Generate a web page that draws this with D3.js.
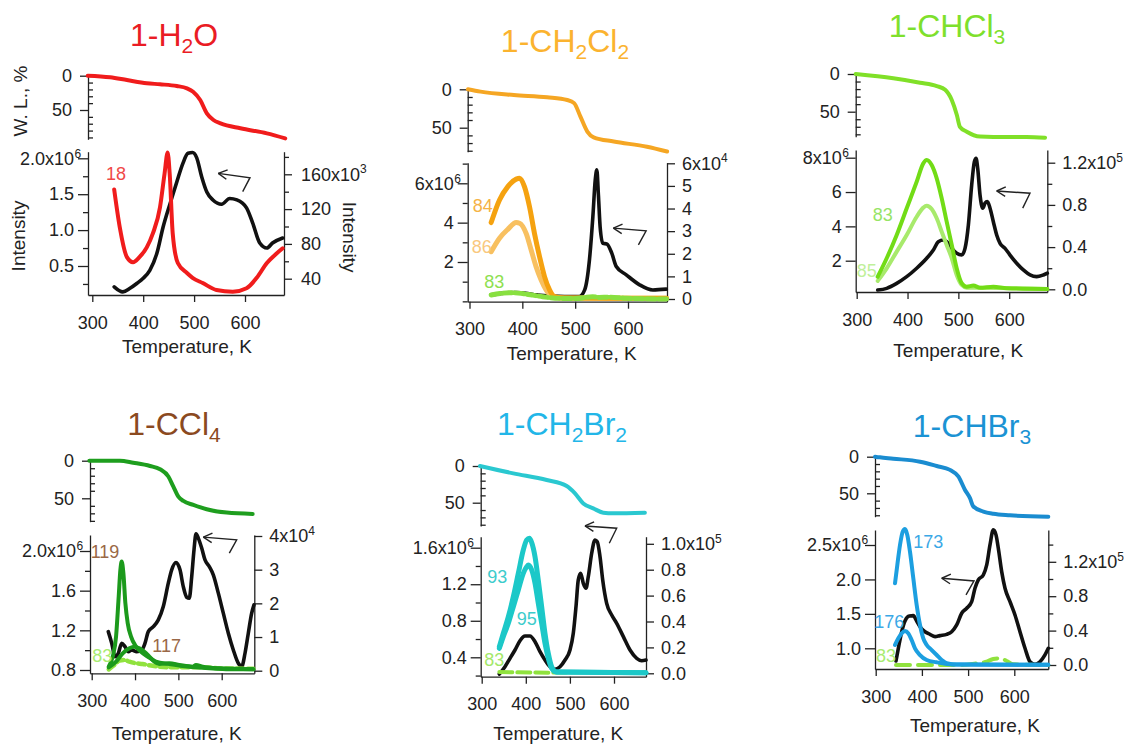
<!DOCTYPE html>
<html>
<head>
<meta charset="utf-8">
<script src="https://cdn.jsdelivr.net/npm/d3@7"></script>
<style>
  body { margin: 0; background: #fff; }
  svg text { font-family: "Liberation Sans", Arial, Helvetica, sans-serif; }
  .axis path, .axis line { stroke: #222; stroke-width: 1.3; }
  .axis text { font-size: 18px; fill: #222; font-family: "Liberation Sans", Arial, sans-serif; }
  .curve { fill: none; stroke-linejoin: round; stroke-linecap: round; }
</style>
</head>
<body>
<svg id="chart" width="1130" height="744"></svg>
<script>
// ---- shared ticks ----
const tempTicks = [300, 400, 500, 600];
const wlTicks = [0, 50];

// ---- 1-H2O ----  [T (K), value]
const h2oWL = [[291,0],[335,2.3],[368,6.3],[407,11],[433,12.5],[466,15],[486,18.4],[498,23.3],[512,35.4],[525,54.8],[538,64.6],[552,69.4],[591,76.7],[643,84],[679,91.3]];
const h2oTotal = [[343,0.21],[360,0.14],[374,0.19],[388,0.26],[400,0.33],[413,0.44],[427,0.68],[439,1.04],[453,1.375],[466,1.67],[478,1.93],[488,2.07],[497,2.08],[505,2.01],[515,1.74],[525,1.53],[537,1.42],[554,1.36],[570,1.44],[584,1.42],[603,1.31],[615,1.1],[629,0.82],[643,0.75],[654,0.82],[674,0.89]];
const h2oM18 = [[343,142.5],[354,99],[368,64.8],[380,59],[393,65],[407,76],[419,92],[433,122],[442,161],[448,185],[452,161],[458,92],[468,58],[486,46.5],[497,41],[517,35],[544,27],[576,25],[603,29],[623,41],[643,58],[662,69],[674,75]];
const h2oLeftTicks = [0.5, 1.0, 1.5, 2.0];
const h2oRightTicks = [40, 80, 120, 160];

// ---- 1-CH2Cl2 ----
const ch2cl2WL = [[297,0],[321,3],[384,7.4],[447,10.4],[485,14],[498,18],[510,35.6],[523,55],[535,62.6],[573,68],[636,74.8],[674,81]];
const ch2cl2Total = [[341,0.33],[365,0.42],[388,0.45],[410,0.4],[426,0.33],[451,0.28],[480,0.25],[508,0.25],[518,0.58],[527,2.1],[533.5,4.3],[538,6.17],[541,6.68],[544,5.4],[547.2,3.8],[552.3,2.95],[559.9,2.92],[569.3,2.45],[577.8,1.77],[596.7,1.35],[622,0.84],[647,0.58],[672.5,0.62]];
const ch2cl2M84 = [[341,3.38],[356.8,4.38],[372.5,4.97],[388.4,5.3],[394.7,5.34],[404,4.97],[413.6,4.08],[423,2.9],[432.6,1.87],[442,0.99],[451.5,0.4],[461,0.1],[480,0.04],[673,0.03]];
const ch2cl2M86 = [[341,2.09],[356.8,2.69],[372.5,3.08],[388.4,3.38],[394.7,3.35],[407.2,2.9],[416.7,2.17],[426,1.43],[435.6,0.84],[445,0.4],[457.6,0.1],[480,0.04],[673,0.03]];
const ch2cl2M83 = [[341,0.18],[360,0.25],[375.6,0.28],[392,0.26],[407,0.22],[420,0.17],[438.6,0.1],[470,0.03],[500,0.02],[533,0.1],[545,0.07],[565,0.08],[596.7,0.03],[673,0.0]];
const ch2cl2LeftTicks = [2, 4, 6];
const ch2cl2RightTicks = [0, 1, 2, 3, 4, 5, 6];

// ---- 1-CHCl3 ----
const chcl3WL = [[298,0],[372,5.7],[424.6,11.5],[457.5,16],[474,21],[487,34.5],[497,54.4],[503,70],[516.5,76.6],[542.7,83],[569,83.5],[634,83.5],[670.5,84.5]];
const chcl3Total = [[341.3,0.29],[359,0.39],[378.7,0.68],[398.4,1.07],[418,1.56],[437.7,2.14],[450.8,2.62],[460.6,3.11],[470.5,3.21],[477,3.11],[487,2.72],[496.7,2.43],[506.6,2.33],[513.1,2.72],[519.7,4.08],[526.2,6.41],[531.5,7.77],[534.8,7.97],[538,7.39],[542.6,5.83],[547.9,5.06],[552.5,5.35],[557,5.44],[562.3,5.06],[568.8,4.27],[575.4,3.5],[582,3.01],[591.8,2.72],[601.6,2.33],[614.7,1.85],[627.8,1.46],[641,1.17],[654,1.07],[667.2,1.17],[675,1.27]];
const chcl3M83 = [[341.3,0.119],[359,0.294],[378.7,0.515],[398.4,0.768],[418,1.02],[431,1.194],[437.7,1.226],[447.5,1.178],[457.4,1.052],[467.2,0.863],[477,0.641],[487,0.42],[496.7,0.199],[506.6,0.057],[516.4,0.025],[529.5,0.035],[542.6,0.015],[568.8,0.025],[595,0.01],[675,0.003]];
const chcl3M85 = [[341.3,0.079],[359,0.199],[378.7,0.357],[398.4,0.515],[418,0.688],[431,0.774],[437.7,0.793],[447.5,0.761],[457.4,0.673],[467.2,0.546],[477,0.42],[487,0.294],[496.7,0.136],[506.6,0.041],[516.4,0.015],[542.6,0.015],[675,0.003]];
const chcl3LeftTicks = [2, 4, 6, 8];
const chcl3RightTicks = [0, 0.4, 0.8, 1.2];

// ---- 1-CCl4 ----
const ccl4WL = [[294.5,0],[365,0],[396,2.7],[434.6,7],[457.7,11.4],[476.9,21],[488.5,34.5],[500,47.8],[511.5,53.5],[534.6,58.8],[565.4,64.6],[611.5,69],[671.5,70.8]];
const ccl4Total = [[338.3,1.187],[346.2,1.07],[353.8,0.934],[361.5,0.969],[369.2,1.07],[376.9,1.035],[384.5,0.985],[392.3,1.002],[403.8,0.985],[415.4,1.0],[423,1.07],[430.6,1.187],[442.2,1.237],[453.7,1.305],[465.2,1.44],[476.8,1.676],[484.6,1.81],[494.5,1.884],[503.8,1.81],[511.4,1.64],[519.2,1.534],[525.2,1.524],[530.8,1.742],[536.1,2.012],[540.7,2.174],[546,2.13],[553.8,2.03],[561.5,1.91],[571.4,1.843],[580.6,1.76],[592.2,1.575],[603.7,1.373],[615.3,1.171],[626.8,1.002],[638.3,0.868],[646.1,0.834],[653.8,0.969],[661.4,1.171],[669.2,1.373],[674.5,1.457]];
const ccl4M119 = [[339.3,0.119],[348.5,0.417],[356.2,1.012],[362.3,2.202],[366.2,2.997],[369.2,3.244],[373.1,2.9],[377.7,2.006],[383.1,1.411],[390.8,1.012],[402.3,0.714],[413.8,0.565],[429.2,0.417],[448.4,0.268],[479.2,0.2],[510,0.14],[540.7,0.1],[571.4,0.07],[617.6,0.04],[673,0.04]];
const ccl4M117 = [[339.3,0.1],[356.2,0.268],[371.6,0.516],[387,0.665],[398.5,0.714],[410,0.665],[421.6,0.565],[433.1,0.417],[444.6,0.268],[456.1,0.2],[479.2,0.22],[502.3,0.17],[533,0.119],[540.7,0.17],[556.1,0.119],[594.6,0.07],[673,0.04]];
const ccl4M83 = [[339.3,0.04],[352.3,0.17],[363.8,0.298],[375.4,0.318],[387,0.268],[402.3,0.22],[417.7,0.2],[433.1,0.16],[456.1,0.119],[479.2,0.1],[517.7,0.1],[556.1,0.1],[594.6,0.07],[673,0.06]];
const ccl4LeftTicks = [0.8, 1.2, 1.6, 2.0];
const ccl4RightTicks = [0, 1, 2, 3, 4];

// ---- 1-CH2Br2 ----
const ch2br2WL = [[296,0],[371.7,10],[447.4,19],[492.7,27.3],[511.6,37.3],[530.4,51],[553,57.7],[575.7,63.6],[598.4,64.5],[670,63.6]];
const ch2br2Total = [[340,0.217],[352.8,0.297],[364.2,0.389],[375.5,0.48],[386.8,0.582],[398.2,0.633],[409.5,0.633],[420.9,0.571],[432.2,0.461],[443.5,0.37],[454.9,0.297],[466.2,0.269],[477.6,0.297],[488.9,0.37],[500.2,0.48],[507.7,0.663],[513.8,0.954],[519,1.247],[524.4,1.32],[530.4,1.21],[536.5,1.156],[541.7,1.283],[549.4,1.539],[556.9,1.685],[562.1,1.666],[568.3,1.502],[574.4,1.247],[583.4,0.991],[594.8,0.863],[606.1,0.772],[621.2,0.626],[636.3,0.48],[651.5,0.389],[662.8,0.363],[672.6,0.37]];
const ch2br2M93 = [[340,0.205],[349,0.309],[360.4,0.437],[371.7,0.592],[383,0.772],[394.3,0.952],[402,1.029],[408,1.042],[413.4,1.009],[420.9,0.9],[428.3,0.72],[436,0.514],[443.5,0.309],[451,0.154],[458.7,0.051],[470,0.01],[672.6,0.005]];
const ch2br2M95 = [[340,0.193],[349,0.283],[360.4,0.386],[371.7,0.514],[383,0.643],[394.3,0.772],[402,0.823],[406,0.836],[413.4,0.798],[420.9,0.695],[428.3,0.54],[436,0.386],[443.5,0.232],[451,0.116],[458.7,0.039],[470,0.01],[672.6,0.005]];
const ch2br2M83 = [[340,0.01],[450,0.005],[550,0.01],[672.6,0.005]];
const ch2br2LeftTicks = [0.4, 0.8, 1.2, 1.6];
const ch2br2RightTicks = [0, 0.2, 0.4, 0.6, 0.8, 1.0];

// ---- 1-CHBr3 ----
const chbr3WL = [[298.5,0],[309,0.9],[338,2.7],[396,6.8],[432,12.7],[460.8,18],[478.8,27],[493.3,45.4],[504.1,56.7],[511.3,68],[533,75],[554.5,78],[590.7,80],[673.6,82]];
const chbr3Total = [[343.9,0.815],[349,1.0],[356.3,1.241],[363.4,1.397],[372.8,1.469],[381.4,1.474],[388.7,1.397],[395.9,1.314],[406.7,1.241],[417.5,1.203],[428.4,1.169],[439.2,1.184],[453.7,1.203],[464.5,1.241],[475.3,1.339],[486.1,1.509],[496.9,1.581],[507.8,1.677],[514.9,1.872],[522.1,1.993],[532.9,2.065],[540.3,2.211],[547.4,2.501],[554.5,2.72],[560.4,2.647],[565.4,2.453],[572.7,2.113],[579.9,1.872],[590.7,1.677],[601.5,1.484],[612.3,1.241],[623.2,1.0],[634,0.805],[644.8,0.767],[655.6,0.805],[666.4,0.903],[673.6,1.0]];
const chbr3M173 = [[341.8,0.95],[346.8,1.163],[352.6,1.395],[358.4,1.55],[363.4,1.581],[368.4,1.512],[374.2,1.318],[381.4,1.008],[388.7,0.698],[395.9,0.465],[403,0.31],[410.4,0.233],[421.2,0.174],[432,0.116],[442.9,0.058],[453.7,0.02],[475.3,0.005],[673.6,0.003]];
const chbr3M176 = [[341.8,0.233],[349,0.31],[356.2,0.368],[363.4,0.395],[370.6,0.368],[377.8,0.29],[385,0.194],[395.9,0.116],[410.4,0.058],[432,0.031],[453.7,0.012],[482.6,0.005],[673.6,0.003]];
const chbr3M83 = [[343.9,0],[410.4,0],[482.6,0],[518.7,0.02],[540.3,0.039],[554.5,0.07],[569,0.078],[583.4,0.047],[597.9,0.008],[673.6,0]];
const chbr3LeftTicks = [1.0, 1.5, 2.0, 2.5];
const chbr3RightTicks = [0, 0.4, 0.8, 1.2];

// ---- panel layout (positions in px, calibrations of axes) ----
const panels = [
  {
    title: [["1-H"], ["2", 1], ["O"]], titleColor: "#ea1c24", titleX: 174, titleY: 46,
    left: 88, right: 284, x300: 92.3, x600: 245, top: 151.7, bottom: 295,
    wl: { y0: 75.7, y50: 110, bottom: 139.3, data: h2oWL, color: "#f01c1c" },
    yl: { cal: [[0.5, 2.0], [266, 158.3]], major: h2oLeftTicks, minorStep: 0.25, dec: 1, exp: "6" },
    yr: { cal: [[40, 160], [278.7, 174.3]], major: h2oRightTicks, minorStep: 20, dec: 0, exp: "3", pad: 9 },
    series: [
      { data: h2oTotal, axis: "l", color: "#111", w: 3.6 },
      { data: h2oM18, axis: "r", color: "#f01c1c", w: 4 }
    ],
    labels: [{ text: "18", T: 346.8, v: 1.79, color: "#f04848" }],
    arrow: [[595.5, 1.535], [609.8, 1.73], [547.5, 1.79]],
    tempLabel: [187, 346]
  },
  {
    title: [["1-CH"], ["2", 1], ["Cl"], ["2", 1]], titleColor: "#fbb32f", titleX: 565, titleY: 52,
    left: 467.7, right: 667, x300: 469.5, x600: 628, top: 162.7, bottom: 301.7,
    wl: { y0: 89.3, y50: 127.7, bottom: 151.7, data: ch2cl2WL, color: "#f5a623" },
    yl: { cal: [[2, 6], [262, 183.3]], major: ch2cl2LeftTicks, minorStep: 1, dec: 0, exp: "6" },
    yr: { cal: [[0, 6], [299, 163.3]], major: ch2cl2RightTicks, minorStep: null, dec: 0, exp: "4", pad: 7 },
    series: [
      { data: ch2cl2Total, axis: "l", color: "#111", w: 3.6 },
      { data: ch2cl2M86, axis: "r", color: "#f8c060", w: 5 },
      { data: ch2cl2M84, axis: "r", color: "#f5a210", w: 5 },
      { data: ch2cl2M83, axis: "r", color: "#88e040", w: 5, dash: "9,3" }
    ],
    labels: [
      { text: "84", T: 325, v: 4.85, color: "#f5b346" },
      { text: "86", T: 323.1, v: 2.78, color: "#f9c87e" },
      { text: "83", T: 347, v: 1.0, color: "#8ee050" }
    ],
    arrow: [[619.7, 2.87], [634.3, 3.58], [572.3, 3.72]],
    tempLabel: [571.7, 353]
  },
  {
    title: [["1-CHCl"], ["3", 1]], titleColor: "#7ee02c", titleX: 947, titleY: 37,
    left: 855.7, right: 1047.3, x300: 856.7, x600: 1009.2, top: 150, bottom: 292,
    wl: { y0: 74, y50: 111.7, bottom: 136.7, data: chcl3WL, color: "#80e028" },
    yl: { cal: [[2, 8], [260.7, 157.7]], major: chcl3LeftTicks, minorStep: null, dec: 0, exp: "6" },
    yr: { cal: [[0, 1.2], [289.3, 162.7]], major: chcl3RightTicks, minorStep: 0.2, dec: 1, exp: "5", pad: 7 },
    series: [
      { data: chcl3Total, axis: "l", color: "#111", w: 3.6 },
      { data: chcl3M85, axis: "r", color: "#a8ea6c", w: 4 },
      { data: chcl3M83, axis: "r", color: "#72dc16", w: 4 }
    ],
    labels: [
      { text: "83", T: 351.2, v: 4.66, color: "#96e466" },
      { text: "85", T: 319.7, v: 1.4, color: "#c0f09a" }
    ],
    arrow: [[626.6, 5.06], [640.9, 5.93], [575.4, 6.06]],
    tempLabel: [958.3, 350]
  },
  {
    title: [["1-CCl"], ["4", 1]], titleColor: "#8b4a1f", titleX: 174, titleY: 435,
    left: 90, right: 254.3, x300: 91.7, x600: 221.7, top: 535, bottom: 673.3,
    wl: { y0: 460.7, y50: 498.3, bottom: 521.7, data: ccl4WL, color: "#1e9e1e" },
    yl: { cal: [[0.8, 2.0], [670, 551]], major: ccl4LeftTicks, minorStep: 0.2, dec: 1, exp: "6" },
    yr: { cal: [[0, 4], [670.7, 536]], major: ccl4RightTicks, minorStep: null, dec: 0, exp: "4", pad: 7 },
    series: [
      { data: ccl4Total, axis: "l", color: "#111", w: 3.6 },
      { data: ccl4M83, axis: "r", color: "#90e23e", w: 4.5, dash: "7,4" },
      { data: ccl4M117, axis: "r", color: "#1c9a1c", w: 4 },
      { data: ccl4M119, axis: "r", color: "#1c9a1c", w: 4 }
    ],
    labels: [
      { text: "119", T: 330.7, v: 1.995, color: "#9a6846" },
      { text: "117", T: 473.1, v: 1.05, color: "#9a6846" },
      { text: "83", T: 324.5, v: 0.941, color: "#a8ec70" }
    ],
    arrow: [[617.6, 1.979], [634.6, 2.113], [557.6, 2.14]],
    tempLabel: [176.7, 733.3]
  },
  {
    title: [["1-CH"], ["2", 1], ["Br"], ["2", 1]], titleColor: "#22b6e8", titleX: 562, titleY: 435,
    left: 480.7, right: 646, x300: 481.7, x600: 614, top: 536.7, bottom: 676.7,
    wl: { y0: 466, y50: 502.7, bottom: 526, data: ch2br2WL, color: "#2ac8d0" },
    yl: { cal: [[0.4, 1.6], [657.3, 547.7]], major: ch2br2LeftTicks, minorStep: 0.2, dec: 1, exp: "6" },
    yr: { cal: [[0, 1.0], [673.3, 543.8]], major: ch2br2RightTicks, minorStep: null, dec: 1, exp: "5", pad: 7 },
    series: [
      { data: ch2br2Total, axis: "l", color: "#111", w: 3.6 },
      { data: ch2br2M83, axis: "r", color: "#90e23e", w: 4, dash: "13,5" },
      { data: ch2br2M95, axis: "r", color: "#1cc8c8", w: 5 },
      { data: ch2br2M93, axis: "r", color: "#1cc8c8", w: 5 }
    ],
    labels: [
      { text: "93", T: 335.4, v: 1.283, color: "#3ccccc" },
      { text: "95", T: 402, v: 0.827, color: "#3ccccc" },
      { text: "83", T: 328.6, v: 0.378, color: "#a4e86a" }
    ],
    arrow: [[589.3, 1.649], [606.1, 1.813], [534.2, 1.838]],
    tempLabel: [558.3, 733.3]
  },
  {
    title: [["1-CHBr"], ["3", 1]], titleColor: "#1b93d4", titleX: 972, titleY: 437,
    left: 875, right: 1048.3, x300: 875.7, x600: 1014.3, top: 530, bottom: 669,
    wl: { y0: 456.7, y50: 493.3, bottom: 516.7, data: chbr3WL, color: "#1a8cd0" },
    yl: { cal: [[1.0, 2.5], [648.3, 545]], major: chbr3LeftTicks, minorStep: null, dec: 1, exp: "6" },
    yr: { cal: [[0, 1.2], [665, 561.8]], major: chbr3RightTicks, minorStep: 0.2, dec: 1, exp: "5", pad: 7 },
    series: [
      { data: chbr3Total, axis: "l", color: "#111", w: 3.6 },
      { data: chbr3M83, axis: "r", color: "#90e23e", w: 4, dash: "14,8" },
      { data: chbr3M176, axis: "r", color: "#1c9fe0", w: 4 },
      { data: chbr3M173, axis: "r", color: "#1c9fe0", w: 4 }
    ],
    labels: [
      { text: "173", T: 413.9, v: 2.549, color: "#3aa8e6" },
      { text: "176", T: 329.4, v: 1.387, color: "#3aa8e6" },
      { text: "83", T: 322.3, v: 0.892, color: "#a8ec70" }
    ],
    arrow: [[495.5, 1.775], [512.8, 1.978], [442.9, 2.017]],
    tempLabel: [975, 725]
  }
];

const svg = d3.select("#chart");

// a scale fixed by two calibration ticks, then stretched to the axis extent
function calScale(cal, lo, hi) {
  const c = d3.scaleLinear().domain(cal[0]).range(cal[1]);
  return d3.scaleLinear().domain([c.invert(lo), c.invert(hi)]).range([lo, hi]);
}

function minorTicks(scale, step) {
  if (!step) return [];
  const [a, b] = d3.extent(scale.domain());
  const out = [];
  for (let v = Math.ceil(a / step - 1e-6) * step; v <= b + 1e-9; v += step) out.push(+v.toFixed(4));
  return out;
}

function drawPanel(p) {
  const g = svg.append("g");
  const line = (x, y) => d3.line().x(d => x(d[0])).y(d => y(d[1])).curve(d3.curveMonotoneX);

  const x = calScale([[300, 600], [p.x300, p.x600]], p.left, p.right);

  // title with subscripts
  const t = g.append("text")
    .attr("x", p.titleX).attr("y", p.titleY)
    .attr("text-anchor", "middle")
    .attr("fill", p.titleColor)
    .style("font-size", "32px");
  let down = false;
  p.title.forEach(([s, sub]) => {
    const ts = t.append("tspan").text(s);
    if (sub && !down) { ts.attr("dy", 7).style("font-size", "21px"); down = true; }
    else if (!sub && down) { ts.attr("dy", -7); down = false; }
    else if (sub) ts.style("font-size", "21px");
  });

  // weight-loss strip
  const yW = calScale([[0, 50], [p.wl.y0, p.wl.y50]], p.wl.y0, p.wl.bottom);
  g.append("g").attr("class", "axis").attr("transform", `translate(${p.left},0)`)
    .call(d3.axisLeft(yW).tickValues(wlTicks).tickSize(8).tickPadding(8).tickSizeOuter(0));
  g.append("g").attr("class", "axis").attr("transform", `translate(${p.left},0)`)
    .call(d3.axisRight(yW).tickValues(minorTicks(yW, 10).filter(v => v % 50 !== 0)).tickSize(5).tickFormat(""))
    .select(".domain").remove();
  g.append("path").datum(p.wl.data).attr("class", "curve")
    .attr("d", line(x, yW)).attr("stroke", p.wl.color).attr("stroke-width", 4);

  // intensity axes
  const yL = calScale(p.yl.cal, p.bottom, p.top);
  const yR = calScale(p.yr.cal, p.bottom, p.top);
  const fmtL = d3.format(`.${p.yl.dec}f`), fmtR = d3.format(`.${p.yr.dec}f`);
  const topL = d3.max(p.yl.major), topR = d3.max(p.yr.major);

  const axL = g.append("g").attr("class", "axis").attr("transform", `translate(${p.left},0)`)
    .call(d3.axisLeft(yL).tickValues(p.yl.major).tickSize(10).tickPadding(4).tickSizeOuter(0)
      .tickFormat(d => fmtL(d) + (d === topL ? "x10" : "")));
  axL.selectAll(".tick").filter(d => d === topL)
    .append("text").attr("x", -13.5).attr("y", -5).attr("dy", "0.32em")
    .attr("text-anchor", "start").attr("fill", "#222").style("font-size", "12px").text(p.yl.exp);
  g.append("g").attr("class", "axis").attr("transform", `translate(${p.left},0)`)
    .call(d3.axisLeft(yL).tickValues(minorTicks(yL, p.yl.minorStep).filter(v => !p.yl.major.some(m => Math.abs(m - v) < 1e-6))).tickSize(5).tickFormat(""))
    .select(".domain").remove();

  const axR = g.append("g").attr("class", "axis").attr("transform", `translate(${p.right},0)`)
    .call(d3.axisRight(yR).tickValues(p.yr.major).tickSize(8).tickPadding(p.yr.pad).tickSizeOuter(0)
      .tickFormat(d => fmtR(d) + (d === topR ? "x10" : "")));
  axR.selectAll(".tick").filter(d => d === topR).select("text")
    .append("tspan").attr("dy", "-0.6em").style("font-size", "12px").text(p.yr.exp);
  g.append("g").attr("class", "axis").attr("transform", `translate(${p.right},0)`)
    .call(d3.axisRight(yR).tickValues(minorTicks(yR, p.yr.minorStep).filter(v => !p.yr.major.some(m => Math.abs(m - v) < 1e-6))).tickSize(5).tickFormat(""))
    .select(".domain").remove();

  // temperature axis
  g.append("g").attr("class", "axis").attr("transform", `translate(0,${p.bottom})`)
    .call(d3.axisBottom(x).tickValues(tempTicks).tickSize(7).tickPadding(14).tickSizeOuter(0));
  g.append("text").attr("x", p.tempLabel[0]).attr("y", p.tempLabel[1])
    .attr("text-anchor", "middle").attr("dy", "0.35em").attr("fill", "#222")
    .style("font-size", "19px").text("Temperature, K");

  // curves
  p.series.forEach(s => {
    g.append("path").datum(s.data).attr("class", "curve")
      .attr("d", line(x, s.axis === "l" ? yL : yR))
      .attr("stroke", s.color).attr("stroke-width", s.w)
      .attr("stroke-linecap", s.dash ? "butt" : "round")
      .attr("stroke-dasharray", s.dash || null);
  });

  // m/z labels
  p.labels.forEach(l => {
    g.append("text").attr("x", x(l.T)).attr("y", yL(l.v))
      .attr("text-anchor", "middle").attr("dy", "0.35em")
      .attr("fill", l.color).style("font-size", "18px").text(l.text);
  });

  // arrow pointing to the left axis
  const pts = p.arrow.map(d => [x(d[0]), yL(d[1])]);
  g.append("path").attr("d", d3.line()(pts))
    .attr("fill", "none").attr("stroke", "#222").attr("stroke-width", 1.4);
  const [tip, from] = [pts[2], pts[1]];
  const ang = Math.atan2(from[1] - tip[1], from[0] - tip[0]);
  [-0.5, 0.5].forEach(da => {
    g.append("line").attr("x1", tip[0]).attr("y1", tip[1])
      .attr("x2", tip[0] + 10 * Math.cos(ang + da)).attr("y2", tip[1] + 10 * Math.sin(ang + da))
      .attr("stroke", "#222").attr("stroke-width", 1.4);
  });
}

panels.forEach(drawPanel);

// axis titles that appear only on the first panel
svg.append("text").attr("transform", "translate(20,101) rotate(-90)")
  .attr("text-anchor", "middle").attr("dy", "0.35em").attr("fill", "#222")
  .style("font-size", "19px").text("W. L., %");
svg.append("text").attr("transform", "translate(18,236) rotate(-90)")
  .attr("text-anchor", "middle").attr("dy", "0.35em").attr("fill", "#222")
  .style("font-size", "19px").text("Intensity");
svg.append("text").attr("transform", "translate(350,237) rotate(90)")
  .attr("text-anchor", "middle").attr("dy", "0.35em").attr("fill", "#222")
  .style("font-size", "19px").text("Intensity");
</script>
</body>
</html>
